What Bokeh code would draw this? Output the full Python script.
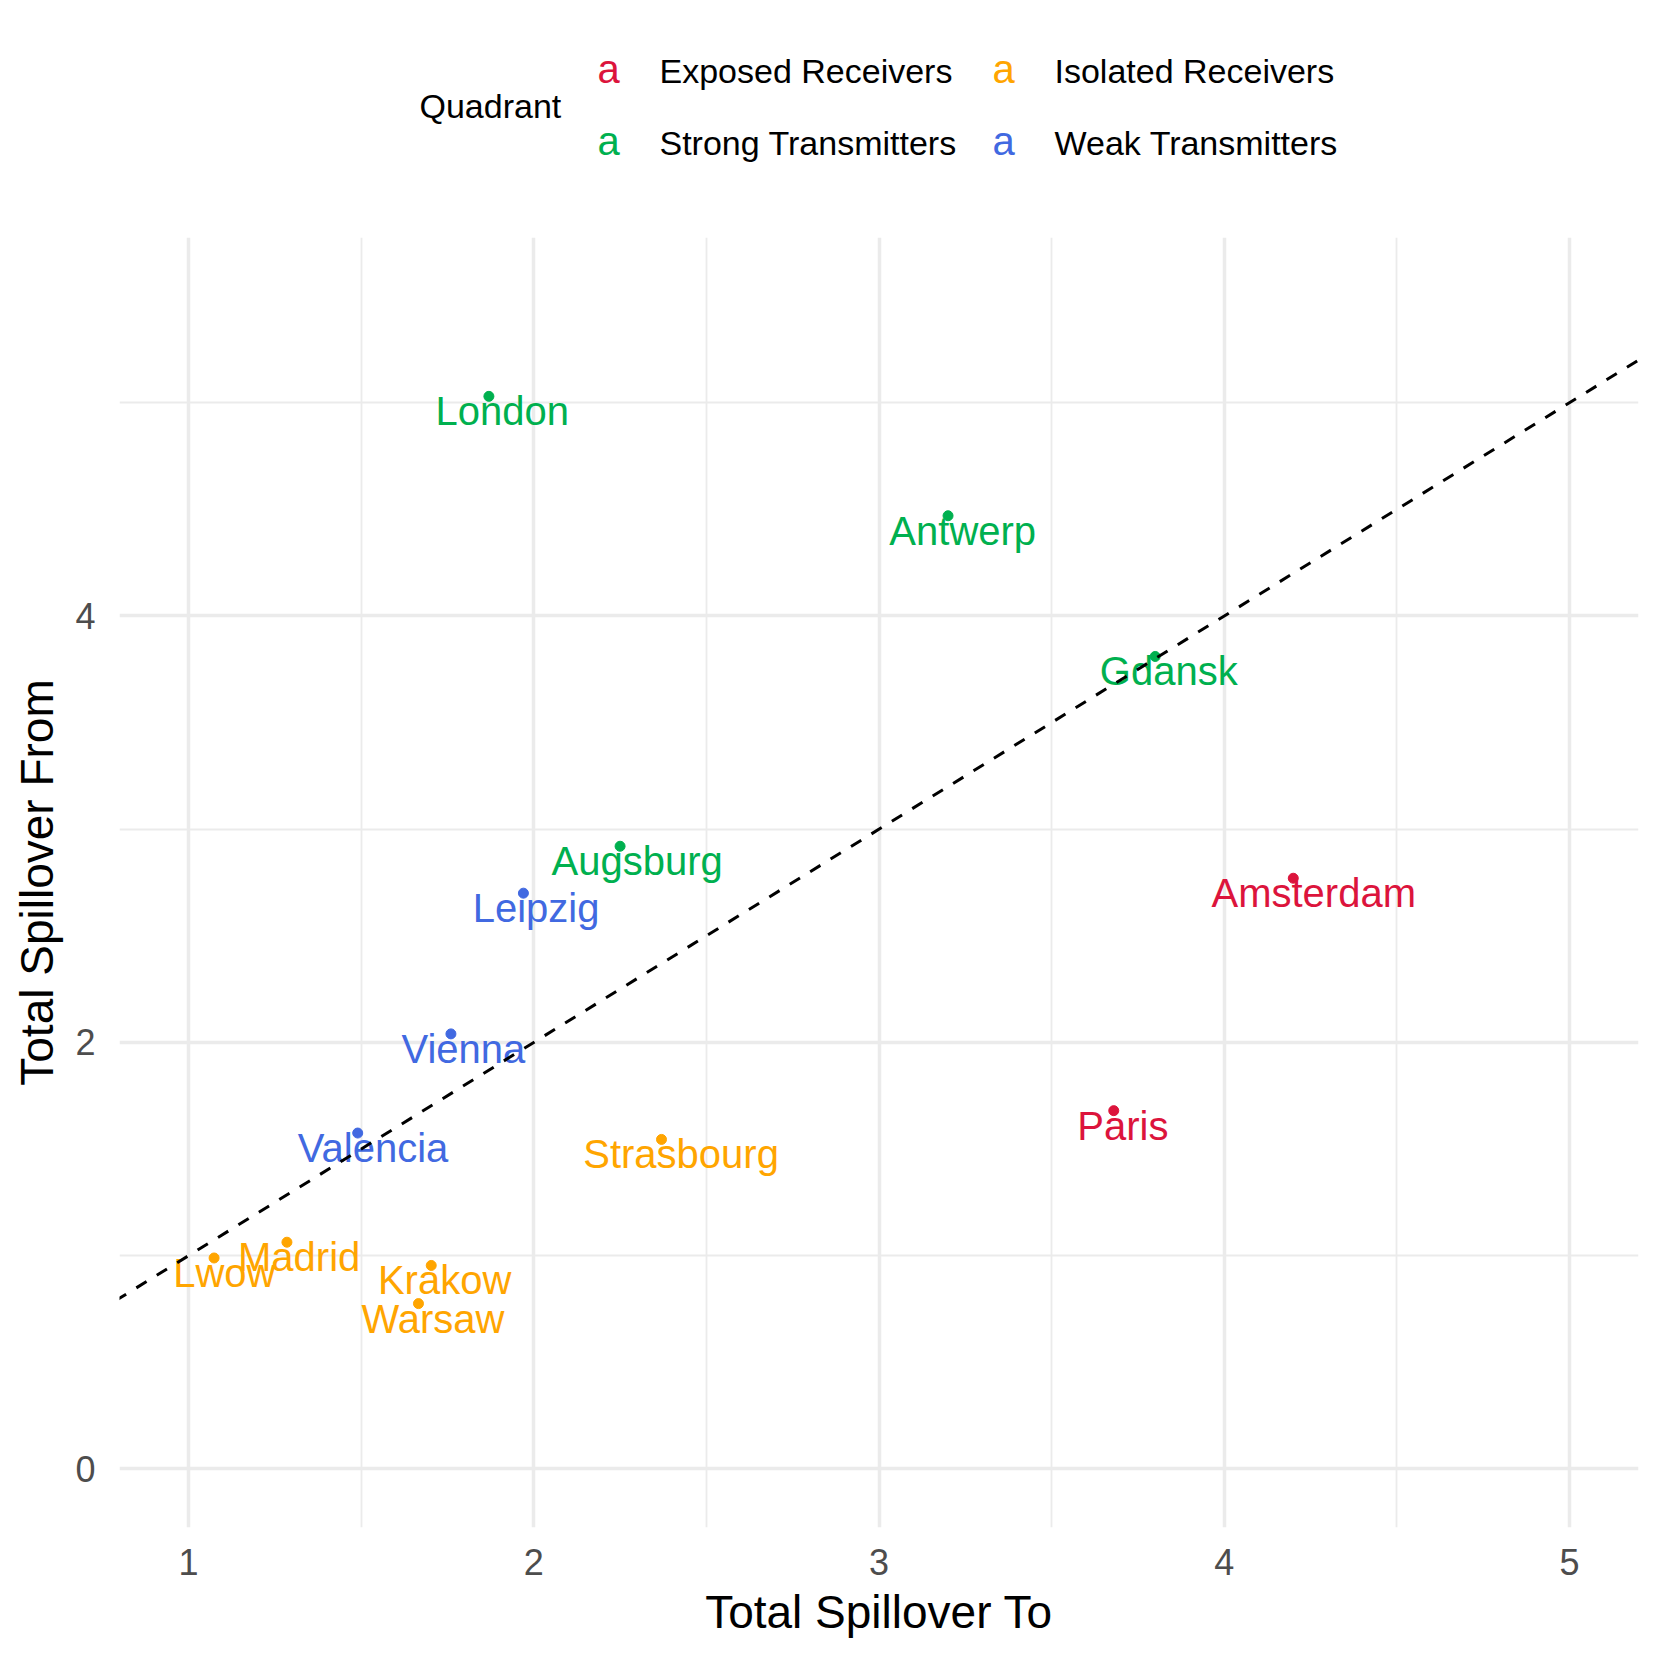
from bokeh.plotting import figure
from bokeh.models import Range1d, Slope, ColumnDataSource, FixedTicker
from bokeh.layouts import column
from bokeh.core.properties import value
from bokeh.embed import file_html
from bokeh.resources import INLINE

# ---- data ----
cities = ["London", "Antwerp", "Gdansk", "Augsburg", "Leipzig", "Amsterdam", "Vienna",
          "Paris", "Valencia", "Strasbourg", "Madrid", "Lwow", "Krakow", "Warsaw"]
spill_to = [1.87, 3.20, 3.80, 2.25, 1.97, 4.20, 1.76, 3.68, 1.49, 2.37, 1.285, 1.074, 1.703, 1.666]
spill_from = [5.03, 4.47, 3.81, 2.92, 2.70, 2.77, 2.04, 1.68, 1.575, 1.545, 1.063, 0.989, 0.954, 0.775]
quadrant = ["Strong Transmitters", "Strong Transmitters", "Strong Transmitters", "Strong Transmitters",
            "Weak Transmitters", "Exposed Receivers", "Weak Transmitters", "Exposed Receivers",
            "Weak Transmitters", "Isolated Receivers", "Isolated Receivers", "Isolated Receivers",
            "Isolated Receivers", "Isolated Receivers"]
quadrant_levels = ["Exposed Receivers", "Isolated Receivers", "Strong Transmitters", "Weak Transmitters"]
quadrant_colors = ["#DC143C", "#FFA500", "#00B04F", "#4169E1"]
x_ticks = [1, 2, 3, 4, 5]
x_minor = [1.5, 2.5, 3.5, 4.5]
y_ticks = [0, 2, 4]
y_minor = [1, 3, 5]

FONT = "Liberation Sans"
LABEL_PX = 40

# approximate Arial advance widths (per 1000 em) to emulate hjust = 0.4
AW = {'L': 556, 'o': 556, 'n': 556, 'd': 556, 'A': 667, 't': 278, 'w': 722, 'e': 556,
      'r': 333, 'p': 556, 'G': 722, 'a': 556, 's': 500, 'k': 500, 'u': 556, 'g': 556,
      'b': 556, 'i': 222, 'z': 500, 'm': 833, 'V': 667, 'P': 667, 'S': 667, 'M': 833,
      'W': 944, 'K': 667, 'c': 500, 'l': 222, 'v': 500}

def text_w(s):
    return sum(AW.get(ch, 556) for ch in s) / 1000.0 * LABEL_PX

cmap = dict(zip(quadrant_levels, quadrant_colors))
src = ColumnDataSource(dict(
    x=spill_to, y=spill_from, name=cities, q=quadrant,
    color=[cmap[q] for q in quadrant],
    xoff=[0.1 * text_w(c) for c in cities],
))

W = 1645
LH = 237          # legend strip height
BL, BR = 119, 7   # left / right borders shared by both figures

# ---- legend header figure ----
leg = figure(width=W, height=LH, x_range=Range1d(BL, W - BR), y_range=Range1d(LH, 0),
             output_backend="svg", toolbar_location=None,
             min_border_left=BL, min_border_right=BR, min_border_top=0, min_border_bottom=0)
leg.axis.visible = False
leg.grid.visible = False
leg.outline_line_color = None
leg.background_fill_color = "white"

key_x = [608, 1003, 608, 1003]
key_y = [68, 68, 140, 140]
txt_x = [659, 1054, 659, 1054]
txt_y = [70.5, 70.5, 142.5, 142.5]
leg_src = ColumnDataSource(dict(kx=key_x, ky=key_y, tx=txt_x, ty=txt_y,
                                lab=quadrant_levels, col=quadrant_colors))
leg.text(x="kx", y="ky", text=value("a"), text_color="col", source=leg_src,
         text_font=value(FONT), text_font_size=f"{LABEL_PX}px",
         text_align="center", text_baseline="middle")
leg.text(x="tx", y="ty", text="lab", text_color="black", source=leg_src,
         text_font=value(FONT), text_font_size="34px",
         text_align="left", text_baseline="middle")
leg.text(x=[419], y=[105.5], text=["Quadrant"], text_color="black",
         text_font=value(FONT), text_font_size="34px",
         text_align="left", text_baseline="middle")

# ---- main figure ----
p = figure(width=W, height=W - LH, x_range=Range1d(0.8, 5.2), y_range=Range1d(-0.275, 5.775),
           output_backend="svg", toolbar_location=None,
           min_border_left=BL, min_border_right=BR, min_border_top=0, min_border_bottom=118)
p.outline_line_color = None
p.background_fill_color = "white"
p.border_fill_color = "white"

p.xaxis.ticker = FixedTicker(ticks=x_ticks, minor_ticks=x_minor)
p.yaxis.ticker = FixedTicker(ticks=y_ticks, minor_ticks=y_minor)
p.xgrid.ticker = FixedTicker(ticks=x_ticks, minor_ticks=x_minor)
p.ygrid.ticker = FixedTicker(ticks=y_ticks, minor_ticks=y_minor)
for g in (p.xgrid, p.ygrid):
    g.grid_line_color = "#EBEBEB"
    g.grid_line_width = 3.5
    g.minor_grid_line_color = "#EBEBEB"
    g.minor_grid_line_width = 1.8

for ax in (p.xaxis, p.yaxis):
    ax.axis_line_color = None
    ax.major_tick_line_color = None
    ax.minor_tick_line_color = None
    ax.major_tick_out = 0
    ax.major_tick_in = 0
    ax.major_label_text_font = FONT
    ax.major_label_text_font_size = "36px"
    ax.major_label_text_color = "#4D4D4D"
    ax.axis_label_text_font = FONT
    ax.axis_label_text_font_size = "46px"
    ax.axis_label_text_font_style = "normal"
    ax.axis_label_text_color = "black"

p.xaxis.axis_label = "Total Spillover To"
p.yaxis.axis_label = "Total Spillover From"
p.xaxis.major_label_standoff = 17
p.xaxis.axis_label_standoff = 8
p.yaxis.major_label_standoff = 20
p.yaxis.axis_label_standoff = 9

p.add_layout(Slope(gradient=1, y_intercept=0, line_color="black", line_width=3,
                   line_dash="12 12"))

p.scatter(x="x", y="y", color="color", size=10, source=src)
p.text(x="x", y="y", text="name", text_color="color", source=src,
       x_offset="xoff", y_offset=15,
       text_font=value(FONT), text_font_size=f"{LABEL_PX}px",
       text_align="center", text_baseline="middle")

layout = column(leg, p, spacing=0)
open("out.html", "w").write(file_html(layout, INLINE))
